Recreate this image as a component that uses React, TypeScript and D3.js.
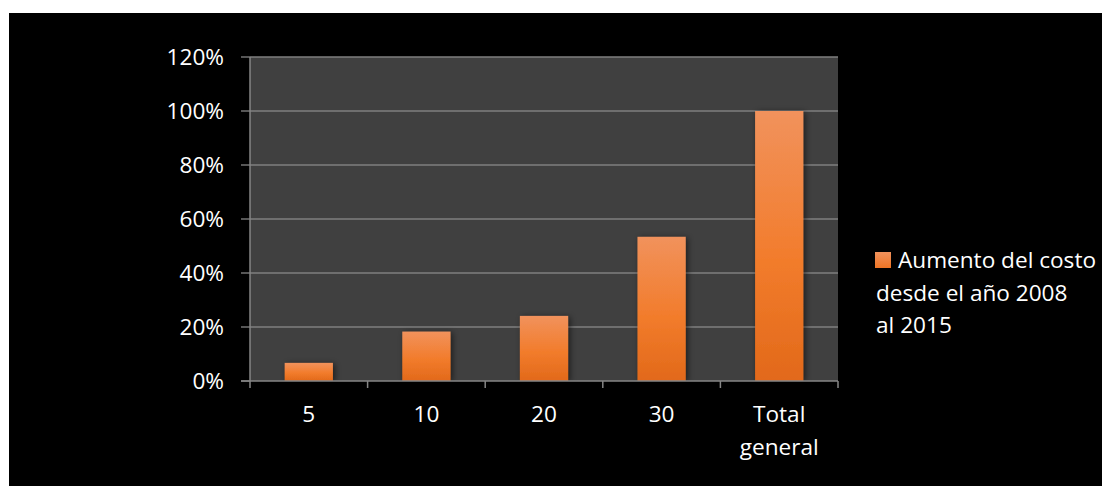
import React from "react";
import * as d3 from "d3";

const categories: string[][] = [["5"], ["10"], ["20"], ["30"], ["Total", "general"]];
const values: number[] = [0.067, 0.183, 0.241, 0.534, 1.0];
const yTicks: number[] = [0, 0.2, 0.4, 0.6, 0.8, 1.0, 1.2];
const legendLines: string[] = ["Aumento del costo", "desde el año 2008", "al 2015"];

const W = 1102;
const H = 486;
const plot = { left: 250, right: 838, top: 57, bottom: 381 };
const FONT = "'Open Sans', sans-serif";
const FS = 22.6;

export default function App() {
  const x = d3
    .scaleBand<number>()
    .domain(d3.range(categories.length))
    .range([plot.left, plot.right])
    .paddingInner(0.59)
    .paddingOuter(0.295);
  const y = d3.scaleLinear().domain([0, 1.2]).range([plot.bottom, plot.top]);
  const step = (plot.right - plot.left) / categories.length;
  const fmt = d3.format(".0%");

  return (
    <div style={{ position: "absolute", left: 0, top: 0 }}>
      <svg width={W} height={H} style={{ display: "block" }} fontFamily={FONT}>
        <defs>
          <linearGradient id="barGrad" x1="0" y1="0" x2="0" y2="1">
            <stop offset="0%" stopColor="#F1925C" />
            <stop offset="55%" stopColor="#F27C2C" />
            <stop offset="100%" stopColor="#E2691A" />
          </linearGradient>
          <linearGradient id="legGrad" x1="0" y1="0" x2="0" y2="1">
            <stop offset="0%" stopColor="#F1925C" />
            <stop offset="100%" stopColor="#EE7424" />
          </linearGradient>
          <filter id="shadow" x="-30%" y="-30%" width="160%" height="160%">
            <feDropShadow dx="2" dy="1" stdDeviation="3" floodColor="#000" floodOpacity="0.55" />
          </filter>
        </defs>
        <rect x={0} y={0} width={W} height={H} fill="#ffffff" />
        <rect x={9} y={13} width={W - 9} height={H - 13} fill="#000000" />
        <rect
          x={plot.left}
          y={plot.top}
          width={plot.right - plot.left}
          height={plot.bottom - plot.top}
          fill="#404040"
        />
        {yTicks.map((t) => (
          <g key={t}>
            {t > 0 && (
              <line x1={plot.left} x2={plot.right} y1={y(t)} y2={y(t)} stroke="#7f7f7f" strokeWidth={1.3} />
            )}
            <line x1={plot.left - 9} x2={plot.left} y1={y(t)} y2={y(t)} stroke="#868686" strokeWidth={1.3} />
            <text x={224} y={y(t)} dy="0.36em" textAnchor="end" fill="#ffffff" fontSize={FS}>
              {fmt(t)}
            </text>
          </g>
        ))}
        {values.map((v, i) => (
          <rect
            key={i}
            x={x(i)}
            y={y(v)}
            width={x.bandwidth()}
            height={y(0) - y(v)}
            fill="url(#barGrad)"
            filter="url(#shadow)"
          />
        ))}
        <line x1={plot.left} x2={plot.left} y1={plot.top} y2={plot.bottom} stroke="#868686" strokeWidth={1.5} />
        <line x1={plot.left - 9} x2={plot.right} y1={plot.bottom} y2={plot.bottom} stroke="#868686" strokeWidth={1.5} />
        {d3.range(categories.length + 1).map((i) => (
          <line
            key={i}
            x1={plot.left + i * step}
            x2={plot.left + i * step}
            y1={plot.bottom}
            y2={plot.bottom + 7}
            stroke="#868686"
            strokeWidth={1.5}
          />
        ))}
        {categories.map((lines, i) => (
          <text
            key={i}
            x={(x(i) as number) + x.bandwidth() / 2}
            y={421.5}
            textAnchor="middle"
            fill="#ffffff"
            fontSize={FS}
          >
            {lines.map((l, j) => (
              <tspan key={j} x={(x(i) as number) + x.bandwidth() / 2} dy={j === 0 ? 0 : 33.5}>
                {l}
              </tspan>
            ))}
          </text>
        ))}
        <rect x={875} y={252} width={16} height={16} fill="url(#legGrad)" />
        <text x={898} y={268} fill="#ffffff" fontSize={FS}>
          {legendLines.map((l, j) => (
            <tspan key={j} x={j === 0 ? 898 : 876} dy={j === 0 ? 0 : 32.5}>
              {l}
            </tspan>
          ))}
        </text>
      </svg>
    </div>
  );
}
